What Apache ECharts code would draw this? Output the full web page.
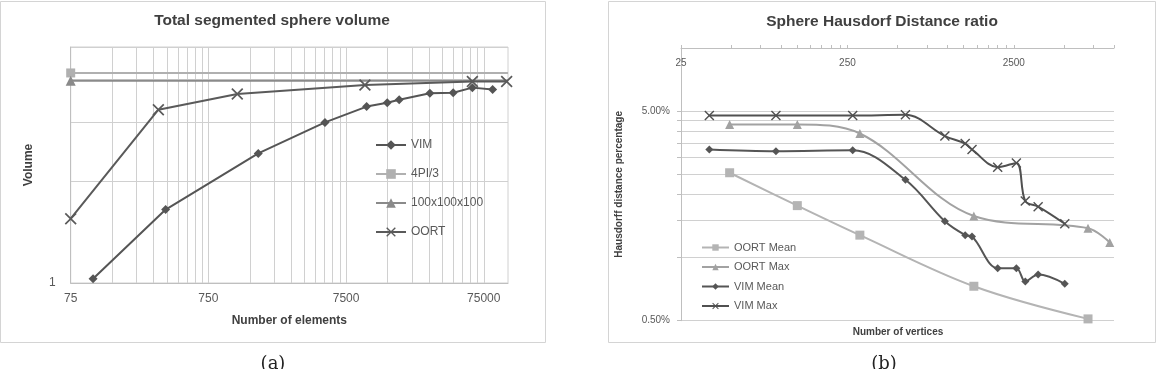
<!DOCTYPE html>
<html>
<head>
<meta charset="utf-8">
<script src="https://cdn.jsdelivr.net/npm/echarts@6/dist/echarts.min.js"></script>
<style>
  html, body { margin: 0; padding: 0; background: #fff; }
  #chart { width: 1164px; height: 369px; }
</style>
</head>
<body>
<div id="chart"></div>
<script>
// (a) Total segmented sphere volume
var aVimX = [109, 367, 1726, 5270, 10580, 14930, 18240, 30460, 45000, 62000, 87000]
var aVimY = [1.03, 1.65, 2.42, 2.99, 3.33, 3.42, 3.49, 3.65, 3.66, 3.79, 3.74]
var aOortX = [75, 325, 1216, 10280, 62000, 110000]
var aOortY = [1.55, 3.26, 3.63, 3.86, 3.95, 3.95]
var aSphereX = [75, 112500]
var aSphereY = [4.18879, 4.18879]
var aGridX = [75, 112500]
var aGridY = [3.97, 3.97]
var aXLabels = [75, 750, 7500, 75000]
var aYLabels = [1]

// (b) Sphere Hausdorf Distance ratio (values in %)
var bOortMeanX = [49, 125, 297, 1438, 6980]
var bOortMeanY = [2.54, 1.77, 1.28, 0.73, 0.51]
var bOortMaxX = [49, 125, 297, 1438, 6980, 9430]
var bOortMaxY = [4.32, 4.32, 3.91, 1.58, 1.38, 1.18]
var bVimX = [37, 93, 269, 558, 963, 1276, 1402, 2000, 2590, 2930, 3500, 5060]
var bVimMeanY = [3.28, 3.22, 3.25, 2.35, 1.49, 1.28, 1.26, 0.89, 0.89, 0.77, 0.83, 0.75]
var bVimMaxY = [4.76, 4.76, 4.76, 4.8, 3.8, 3.5, 3.28, 2.7, 2.83, 1.86, 1.75, 1.45]
var bXLabels = [25, 250, 2500]
var bYLabels = [0.5, 5]

// gridline / tick positions on the log axes: k * base * 10^n
function logSteps(base, max) {
  var out = []
  for (var p = 1; p * base <= max * 1.0001; p *= 10) {
    for (var k = 1; k <= 9; k++) {
      var v = Math.round(k * p * base * 1000) / 1000
      if (v <= max * 1.0001) out.push(v)
    }
  }
  return out
}

function pairs(xs, ys) {
  return xs.map(function(x, i) { return [x, ys[i]] })
}

function plain(v) {
  return String(Math.round(v))
}

var xMark = 'path://M0,1L1,0L5,4L9,0L10,1L6,5L10,9L9,10L5,6L1,10L0,9L4,5Z'
var labelColor = '#595959'
var gridColor = '#d0d0d0'
var axisColor = '#bfbfbf'

var chart = echarts.init(document.getElementById('chart'))

var option = {
  animation: false,
  backgroundColor: '#fff',
  textStyle: { fontFamily: 'Liberation Sans' },
  graphic: [
    { type: 'rect', shape: { x: 0.5, y: 1.5, width: 545, height: 341 }, style: { fill: 'none', stroke: '#d4d4d4', lineWidth: 1 } },
    { type: 'rect', shape: { x: 608.5, y: 1.5, width: 547, height: 341 }, style: { fill: 'none', stroke: '#d4d4d4', lineWidth: 1 } },
    { type: 'text', x: 272, y: 21, style: { text: 'Total segmented sphere volume', align: 'center', verticalAlign: 'middle', font: 'bold 15.5px "Liberation Sans"', fill: '#404040' } },
    { type: 'text', x: 882, y: 22, style: { text: 'Sphere Hausdorf Distance ratio', align: 'center', verticalAlign: 'middle', font: 'bold 15.5px "Liberation Sans"', fill: '#404040' } },
    { type: 'text', x: 898, y: 332, style: { text: 'Number of vertices', align: 'center', verticalAlign: 'middle', font: 'bold 10px "Liberation Sans"', fill: '#404040' } },
    { type: 'text', x: 273, y: 355, style: { text: '(a)', align: 'center', verticalAlign: 'top', font: '18px "DejaVu Serif"', fill: '#222' } },
    { type: 'text', x: 884, y: 355, style: { text: '(b)', align: 'center', verticalAlign: 'top', font: '18px "DejaVu Serif"', fill: '#222' } }
  ],
  legend: [
    {
      orient: 'vertical',
      left: 370,
      top: 134,
      itemWidth: 30,
      itemHeight: 12,
      itemGap: 17,
      textStyle: { color: labelColor, fontSize: 12 },
      data: ['VIM', '4PI/3', '100x100x100', 'OORT']
    },
    {
      orient: 'vertical',
      left: 696,
      top: 237,
      itemWidth: 27,
      itemHeight: 8,
      itemGap: 8.5,
      textStyle: { color: labelColor, fontSize: 11 },
      data: ['OORT Mean', 'OORT Max', 'VIM Mean', 'VIM Max']
    }
  ],
  grid: [
    { left: 70.7, top: 47, right: 656, bottom: 86, show: true, borderColor: gridColor, borderWidth: 1 },
    { left: 681, top: 48, right: 50, bottom: 48.3 }
  ],
  xAxis: [
    {
      type: 'log',
      logBase: 10,
      gridIndex: 0,
      min: 75,
      max: 112500,
      name: 'Number of elements',
      nameLocation: 'middle',
      nameGap: 32,
      nameTextStyle: { fontWeight: 'bold', fontSize: 12, color: '#404040' },
      axisLine: { show: true, lineStyle: { color: axisColor } },
      axisTick: { show: false, customValues: logSteps(75, 112500) },
      axisLabel: { customValues: aXLabels, color: labelColor, fontSize: 12, margin: 10, formatter: plain },
      splitLine: { show: true, lineStyle: { color: gridColor } }
    },
    {
      type: 'log',
      logBase: 10,
      gridIndex: 1,
      position: 'top',
      min: 25,
      max: 10000,
      axisLine: { show: true, lineStyle: { color: axisColor } },
      axisTick: { show: true, length: 3, customValues: logSteps(25, 10000), lineStyle: { color: axisColor } },
      axisLabel: { inside: true, customValues: bXLabels, color: labelColor, fontSize: 10, margin: 10, formatter: plain },
      splitLine: { show: false }
    }
  ],
  yAxis: [
    {
      type: 'log',
      logBase: 10,
      gridIndex: 0,
      min: 1,
      max: 5,
      name: 'Volume',
      nameLocation: 'middle',
      nameGap: 36,
      nameTextStyle: { fontWeight: 'bold', fontSize: 12, color: '#404040' },
      axisLine: { show: true, lineStyle: { color: axisColor } },
      axisTick: { show: false, customValues: [1, 2, 3, 4, 5] },
      axisLabel: { customValues: aYLabels, color: labelColor, fontSize: 12, margin: 15, formatter: plain },
      splitLine: { show: true, lineStyle: { color: gridColor } }
    },
    {
      type: 'log',
      logBase: 10,
      gridIndex: 1,
      min: 0.5,
      max: 10,
      name: 'Hausdorff distance percentage',
      nameLocation: 'middle',
      nameGap: 57,
      nameTextStyle: { fontWeight: 'bold', fontSize: 10, color: '#404040' },
      axisLine: { show: true, lineStyle: { color: axisColor } },
      axisTick: { show: true, length: 4, customValues: logSteps(0.5, 5), lineStyle: { color: axisColor } },
      axisLabel: {
        customValues: bYLabels,
        color: labelColor,
        fontSize: 10,
        margin: 11,
        formatter: function(v) { return v.toFixed(2) + '%' }
      },
      splitLine: { show: true, lineStyle: { color: gridColor } }
    }
  ],
  series: [
    {
      name: 'VIM', type: 'line', xAxisIndex: 0, yAxisIndex: 0,
      symbol: 'diamond', symbolSize: 9,
      itemStyle: { color: '#555555' }, lineStyle: { color: '#555555', width: 2 },
      data: pairs(aVimX, aVimY)
    },
    {
      name: '4PI/3', type: 'line', xAxisIndex: 0, yAxisIndex: 0,
      symbol: 'rect', symbolSize: 9,
      itemStyle: { color: '#b0b0b0' }, lineStyle: { color: '#b0b0b0', width: 2 },
      data: pairs(aSphereX, aSphereY).map(function(p, i) { return i === 0 ? { value: p } : { value: p, symbol: 'none' } })
    },
    {
      name: '100x100x100', type: 'line', xAxisIndex: 0, yAxisIndex: 0,
      symbol: 'triangle', symbolSize: 10,
      itemStyle: { color: '#8a8a8a' }, lineStyle: { color: '#8a8a8a', width: 2 },
      data: pairs(aGridX, aGridY).map(function(p, i) { return i === 0 ? { value: p } : { value: p, symbol: 'none' } })
    },
    {
      name: 'OORT', type: 'line', xAxisIndex: 0, yAxisIndex: 0,
      symbol: xMark, symbolSize: 12,
      itemStyle: { color: '#5a5a5a' }, lineStyle: { color: '#5a5a5a', width: 2 },
      data: pairs(aOortX, aOortY)
    },
    {
      name: 'OORT Mean', type: 'line', xAxisIndex: 1, yAxisIndex: 1,
      smooth: 0.35, symbol: 'rect', symbolSize: 9,
      itemStyle: { color: '#b4b4b4' }, lineStyle: { color: '#b4b4b4', width: 2 },
      data: pairs(bOortMeanX, bOortMeanY)
    },
    {
      name: 'OORT Max', type: 'line', xAxisIndex: 1, yAxisIndex: 1,
      smooth: 0.35, symbol: 'triangle', symbolSize: 9,
      itemStyle: { color: '#a2a2a2' }, lineStyle: { color: '#a2a2a2', width: 2 },
      data: pairs(bOortMaxX, bOortMaxY)
    },
    {
      name: 'VIM Mean', type: 'line', xAxisIndex: 1, yAxisIndex: 1,
      smooth: 0.35, symbol: 'diamond', symbolSize: 8,
      itemStyle: { color: '#555555' }, lineStyle: { color: '#555555', width: 2 },
      data: pairs(bVimX, bVimMeanY)
    },
    {
      name: 'VIM Max', type: 'line', xAxisIndex: 1, yAxisIndex: 1,
      smooth: 0.35, symbol: xMark, symbolSize: 10,
      itemStyle: { color: '#505050' }, lineStyle: { color: '#505050', width: 2 },
      data: pairs(bVimX, bVimMaxY)
    }
  ]
}

chart.setOption(option)
</script>
</body>
</html>
